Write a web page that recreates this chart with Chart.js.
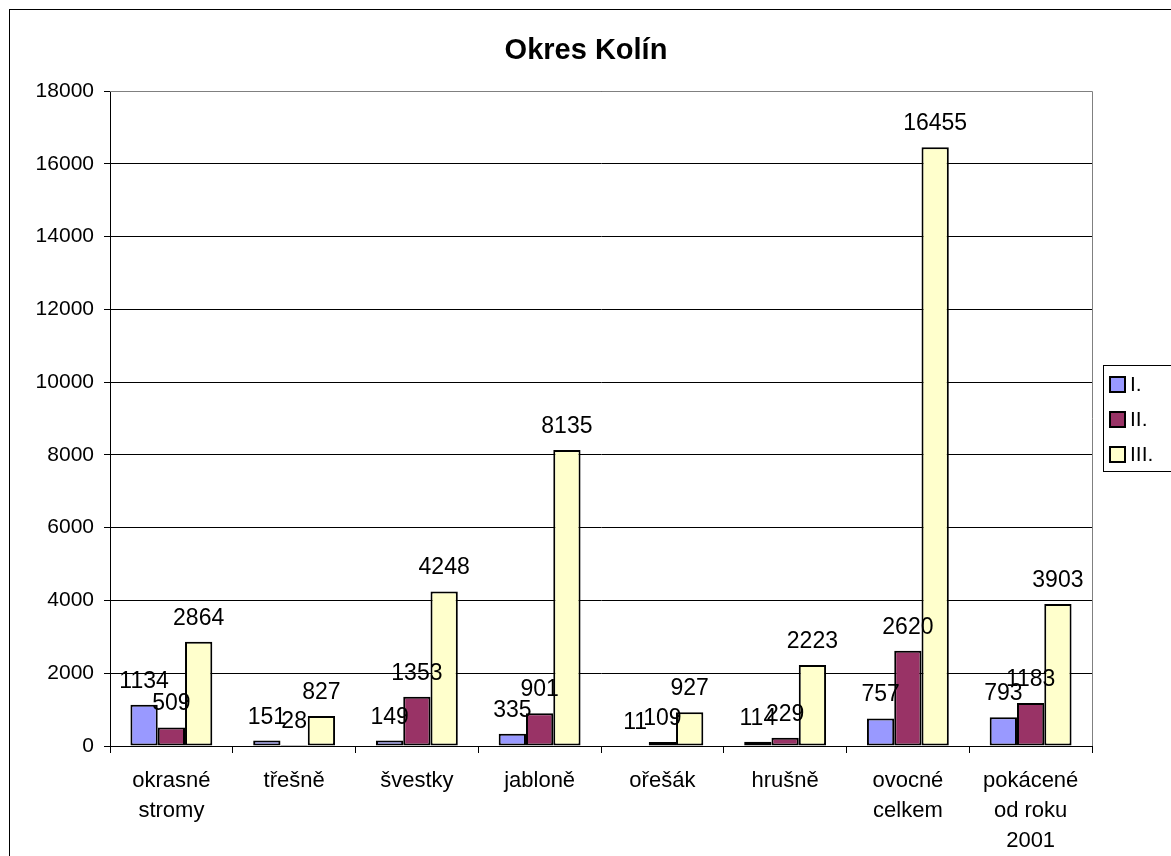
<!DOCTYPE html>
<html>
<head>
<meta charset="utf-8">
<script src="https://cdn.jsdelivr.net/npm/chart.js"></script>
<style>
  html, body { margin: 0; padding: 0; background: #fff; }
  #wrap { position: relative; width: 1171px; height: 856px; }
</style>
</head>
<body>
<div id="wrap"><canvas id="chart" width="1171" height="856"></canvas></div>
<script>
const categories = [
  ['okrasné', 'stromy'],
  'třešně',
  'švestky',
  'jabloně',
  'ořešák',
  'hrušně',
  ['ovocné', 'celkem'],
  ['pokácené', 'od roku', '2001']
];
const seriesNames = ['I.', 'II.', 'III.'];
const valuesI = [1134, 151, 149, 335, 11, 114, 757, 793];
const valuesII = [509, 28, 1353, 901, 109, 229, 2620, 1183];
const valuesIII = [2864, 827, 4248, 8135, 927, 2223, 16455, 3903];
const seriesColors = ['#9999FF', '#993366', '#FFFFCC'];
const chartTitle = 'Okres Kolín';

const FONT = 'Arial, "Liberation Sans", sans-serif';

// outer frame, plot frame, title, value labels and legend
const decorations = {
  id: 'decorations',
  afterDatasetsDraw(chart) {
    const ctx = chart.ctx;
    const a = chart.chartArea;
    ctx.save();
    // grey frame on top and right of plot area
    ctx.strokeStyle = '#808080';
    ctx.lineWidth = 1;
    ctx.beginPath();
    ctx.moveTo(a.left, a.top + 0.5);
    ctx.lineTo(a.right + 0.5, a.top + 0.5);
    ctx.lineTo(a.right + 0.5, a.bottom);
    ctx.stroke();

    // value labels above each bar
    ctx.fillStyle = '#000';
    ctx.font = '23px ' + FONT;
    ctx.textAlign = 'center';
    ctx.textBaseline = 'alphabetic';
    chart.data.datasets.forEach((ds, i) => {
      chart.getDatasetMeta(i).data.forEach((bar, j) => {
        ctx.fillText(String(ds.data[j]), bar.x, bar.y - 17);
      });
    });
    ctx.restore();
  },
  afterDraw(chart) {
    const ctx = chart.ctx;
    ctx.save();
    // outer chart border
    ctx.strokeStyle = '#000';
    ctx.lineWidth = 1;
    ctx.strokeRect(9.5, 9.5, 1200, 900);

    // title
    ctx.fillStyle = '#000';
    ctx.font = 'bold 29px ' + FONT;
    ctx.textAlign = 'center';
    ctx.textBaseline = 'middle';
    ctx.fillText(chartTitle, 586, 51);

    // legend
    const lx = 1103, ly = 365;
    ctx.strokeStyle = '#000';
    ctx.lineWidth = 1;
    ctx.strokeRect(lx + 0.5, ly + 0.5, 100, 106);
    ctx.font = '21px ' + FONT;
    ctx.textAlign = 'left';
    chart.data.datasets.forEach((ds, i) => {
      const y = ly + 19 + i * 35;
      ctx.fillStyle = ds.backgroundColor;
      ctx.fillRect(lx + 7, y - 7, 15, 15);
      ctx.lineWidth = 2;
      ctx.strokeRect(lx + 7, y - 7, 15, 15);
      ctx.fillStyle = '#000';
      ctx.fillText(ds.label, lx + 27, y + 1);
    });
    ctx.restore();
  }
};

const allSeries = [valuesI, valuesII, valuesIII];

new Chart(document.getElementById('chart').getContext('2d'), {
  type: 'bar',
  data: {
    labels: categories,
    datasets: allSeries.map((vals, i) => ({
      label: seriesNames[i],
      data: vals,
      backgroundColor: seriesColors[i],
      borderColor: '#000',
      borderWidth: 2,
      borderSkipped: false,
      categoryPercentage: 0.667,
      barPercentage: 1
    }))
  },
  options: {
    responsive: false,
    animation: false,
    layout: { padding: { left: 10, top: 91, right: 79, bottom: 0 } },
    plugins: {
      legend: { display: false },
      title: { display: false },
      tooltip: { enabled: false }
    },
    scales: {
      x: {
        afterFit(s) { s.height = 110; },
        grid: {
          offset: true,
          drawOnChartArea: false,
          drawTicks: true,
          tickLength: 7,
          color: '#000'
        },
        border: { color: '#000', width: 1 },
        ticks: {
          color: '#000',
          padding: 13,
          font: { family: FONT, size: 22, lineHeight: 1.36 },
          maxRotation: 0,
          autoSkip: false
        }
      },
      y: {
        min: 0,
        max: 18000,
        afterFit(s) { s.width = 100; },
        grid: {
          color: '#000',
          lineWidth: 1,
          tickLength: 6
        },
        border: { color: '#000', width: 1 },
        ticks: {
          stepSize: 2000,
          color: '#000',
          padding: 10,
          font: { family: FONT, size: 21 },
          callback: v => String(v)
        }
      }
    }
  },
  plugins: [decorations]
});
</script>
</body>
</html>
